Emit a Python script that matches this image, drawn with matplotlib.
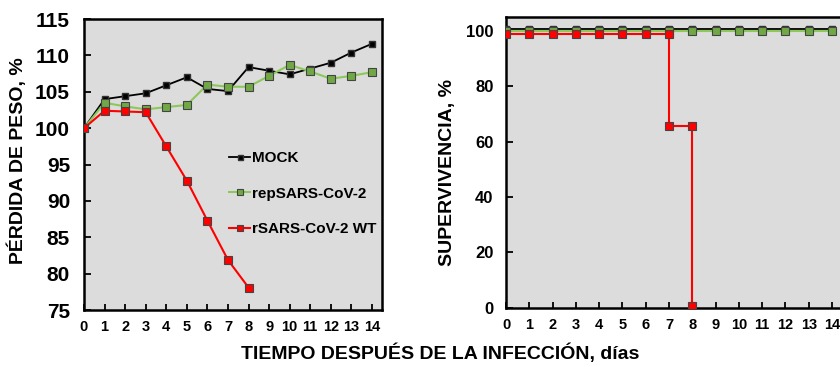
import numpy as np
import matplotlib.pyplot as plt

plt.rcParams['font.family'] = ['Liberation Sans', 'DejaVu Sans']
plt.rcParams['font.weight'] = 'bold'

days = list(range(15))
peso_mock = [100, 104.0, 104.4, 104.8, 105.9, 107.0, 105.4, 105.1, 108.4, 107.9, 107.4, 108.2, 109.0, 110.4, 111.6]
peso_rep = [100, 103.5, 103.0, 102.6, 102.9, 103.2, 106.0, 105.7, 105.7, 107.2, 108.7, 107.8, 106.8, 107.2, 107.7]
days_wt = list(range(9))
peso_wt = [100, 102.4, 102.3, 102.2, 97.5, 92.8, 87.3, 81.9, 78.1]

surv_mock = [100.6] * 15
surv_rep = [100] * 15
days_surv_wt = [0, 1, 2, 3, 4, 5, 6, 7, 7, 8, 8]
surv_wt = [99, 99, 99, 99, 99, 99, 99, 99, 65.5, 65.5, 0.8]

labels = ["MOCK", "repSARS-CoV-2", "rSARS-CoV-2 WT"]
bg = "#dcdcdc"
green_line = "#8cc85a"
green_face = "#70a846"

fig = plt.figure(figsize=(8.4, 3.67), dpi=100)
ax1 = fig.add_axes([0.1, 0.155, 0.355, 0.793])
ax2 = fig.add_axes([0.6024, 0.161, 0.402, 0.793])

for ax in (ax1, ax2):
    ax.set_facecolor(bg)
    for s in ax.spines.values():
        s.set_linewidth(1.8)
    ax.set_xlim(0, 14.5)
    ax.set_xticks(days)
    ax.tick_params(axis='x', direction='in', length=4, width=1.3, pad=7, labelsize=10.5)
    ax.tick_params(axis='y', direction='in', length=5, width=1.3)

# weight
ax1.plot(days, peso_mock, color='black', lw=1.3, marker='s', ms=4.5,
         mfc='black', mec='#333333', label=labels[0], zorder=3)
ax1.plot(days, peso_rep, color=green_line, lw=1.5, marker='s', ms=5.5,
         mfc=green_face, mec='#444444', mew=0.8, label=labels[1], zorder=3)
ax1.plot(days_wt, peso_wt, color='red', lw=1.5, marker='s', ms=5.5,
         mfc='red', mec='#444444', mew=0.8, label=labels[2], zorder=4)
ax1.set_ylim(75, 115)
ax1.set_yticks(range(75, 116, 5))
ax1.tick_params(axis='y', labelsize=15, pad=10)
ax1.set_ylabel("PÉRDIDA DE PESO, %", fontsize=14, fontweight='bold', labelpad=6)
ax1.yaxis.label.set_y(0.515)
ax1.legend(loc='center left', bbox_to_anchor=(0.44, 0.40), frameon=False,
           handlelength=1.4, handletextpad=0.1, labelspacing=1.4,
           prop={'weight': 'bold', 'size': 11}, markerscale=0.8)

# survival
ax2.plot(days, surv_mock, color='black', lw=1.3, marker='s', ms=5,
         mfc='black', mec='#333333', zorder=3)
ax2.plot(days, surv_rep, color=green_line, lw=1.5, marker='s', ms=5.5,
         mfc=green_face, mec='#444444', mew=0.8, zorder=4)
ax2.plot(days_surv_wt, surv_wt, color='red', lw=1.5, marker='s', ms=5.5,
         mfc='red', mec='#444444', mew=0.8, zorder=5)
ax2.set_ylim(0, 105)
ax2.set_yticks(range(0, 101, 20))
ax2.tick_params(axis='y', labelsize=12, pad=9)
ax2.set_ylabel("SUPERVIVENCIA, %", fontsize=14, fontweight='bold', labelpad=7)
ax2.yaxis.label.set_y(0.465)

fig.text(0.524, 0.022, "TIEMPO DESPUÉS DE LA INFECCIÓN, días", ha='center',
         fontsize=14, fontweight='bold')

fig.savefig("out.png", dpi=100)
